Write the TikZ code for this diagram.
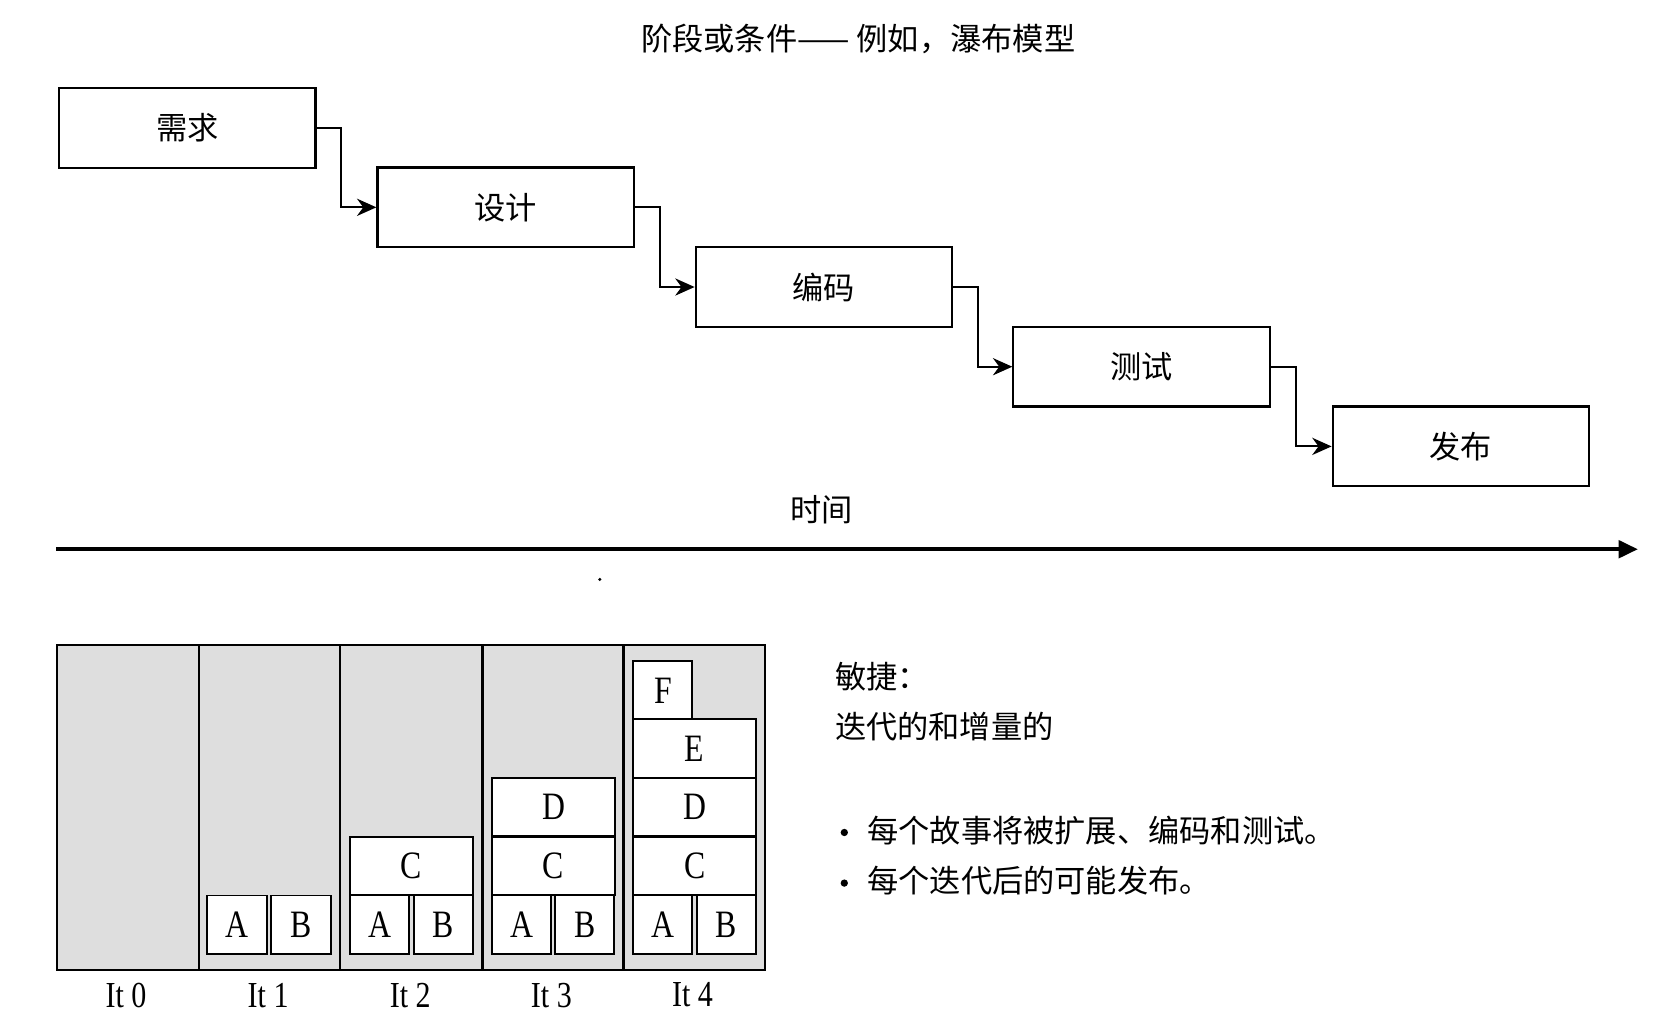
\documentclass[tikz,border=0pt]{standalone}
\usepackage{fontspec}
\setmainfont{Liberation Serif}
\newfontfamily\cjk{Noto Sans CJK SC}
\newfontfamily\latn[FakeStretch=0.82]{Liberation Serif}
\usetikzlibrary{arrows.meta}
\begin{document}
\begin{tikzpicture}[x=0.5pt,y=-0.5pt,
  phase/.style={draw, line width=1pt, minimum width=119pt, minimum height=37pt, inner sep=0pt,
    font=\cjk\fontsize{14.5}{17}\selectfont},
  story/.style={draw, line width=0.9pt, fill=white, minimum height=27pt, inner sep=0pt,
    font=\latn\fontsize{18}{20}\selectfont},
  narrow/.style={story, minimum width=27.5pt},
  wide/.style={story, minimum width=57pt},
  conn/.style={line width=0.9pt, -{Stealth[length=9pt,width=8pt]}},
  cjktext/.style={inner sep=0pt, font=\cjk\fontsize{14.5}{17}\selectfont},
  itlabel/.style={inner sep=0pt, font=\latn\fontsize{17}{19}\selectfont},
  bulletdot/.style={circle, fill=black, inner sep=0pt, minimum size=3.4pt}
]
\useasboundingbox (0,0) rectangle (1560,955);

% title
\node[cjktext] (title) at (797,36) {阶段或条件—— 例如，瀑布模型};

% waterfall phases
\node[phase] (b1) at (174,119) {需求};
\node[phase] (b2) at (469.5,192.5) {设计};
\node[phase] (b3) at (765,266.5) {编码};
\node[phase] (b4) at (1060,340.5) {测试};
\node[phase] (b5) at (1356.5,414.5) {发布};

\draw[conn] (b1.east) -- ++(23,0) |- (b2.west);
\draw[conn] (b2.east) -- ++(23,0) |- (b3.west);
\draw[conn] (b3.east) -- ++(23,0) |- (b4.west);
\draw[conn] (b4.east) -- ++(23,0) |- (b5.west);

% time axis
\node[cjktext] (time) at (763,473) {时间};
\coordinate (t0) at (52,510);
\coordinate (t1) at (1521,510);
\draw[line width=2pt, -{Triangle[length=9pt,width=8pt]}] (t0) -- (t1);
\fill (557,538) circle (1.6);

% iterations panel
\fill[black!13] (53,599) rectangle (710,901);
\draw[line width=1pt] (53,599) rectangle (710,901);
\foreach \xx in {185,316,448,579} \draw[line width=1pt] (\xx,599) -- (\xx,901);

% It 1
\node[narrow] (a1) at (220,858.5) {A};
\node[narrow] (bb1) at (279.5,858.5) {B};
% It 2
\node[narrow] (a2) at (352.5,858.5) {A};
\node[narrow] (bb2) at (411.5,858.5) {B};
\node[wide] (c2) at (382,804) {C};
% It 3
\node[narrow] (a3) at (484.5,858.5) {A};
\node[narrow] (bb3) at (543,858.5) {B};
\node[wide] (c3) at (514,804) {C};
\node[wide] (d3) at (514,749.5) {D};
% It 4
\node[narrow] (a4) at (615.5,858.5) {A};
\node[narrow] (bb4) at (674.5,858.5) {B};
\node[wide] (c4) at (645,804) {C};
\node[wide] (d4) at (645,749.5) {D};
\node[wide] (e4) at (645,695) {E};
\node[narrow] (f4) at (615.5,641) {F};

\node[itlabel] (i0) at (117,924) {It 0};
\node[itlabel] (i1) at (249,924) {It 1};
\node[itlabel] (i2) at (381,924) {It 2};
\node[itlabel] (i3) at (512,924) {It 3};
\node[itlabel] (i4) at (643,924) {It 4};

% agile text
\node[cjktext, anchor=west] (agile) at (775,628) {敏捷：};
\node[cjktext, anchor=west] (iter) at (775,675) {迭代的和增量的};
\node[bulletdot] (dot1) at (784,773) {};
\node[cjktext, anchor=west] (l1) at (805,771) {每个故事将被扩展、编码和测试。};
\node[bulletdot] (dot2) at (784,820) {};
\node[cjktext, anchor=west] (l2) at (805,818) {每个迭代后的可能发布。};
\end{tikzpicture}
\end{document}
